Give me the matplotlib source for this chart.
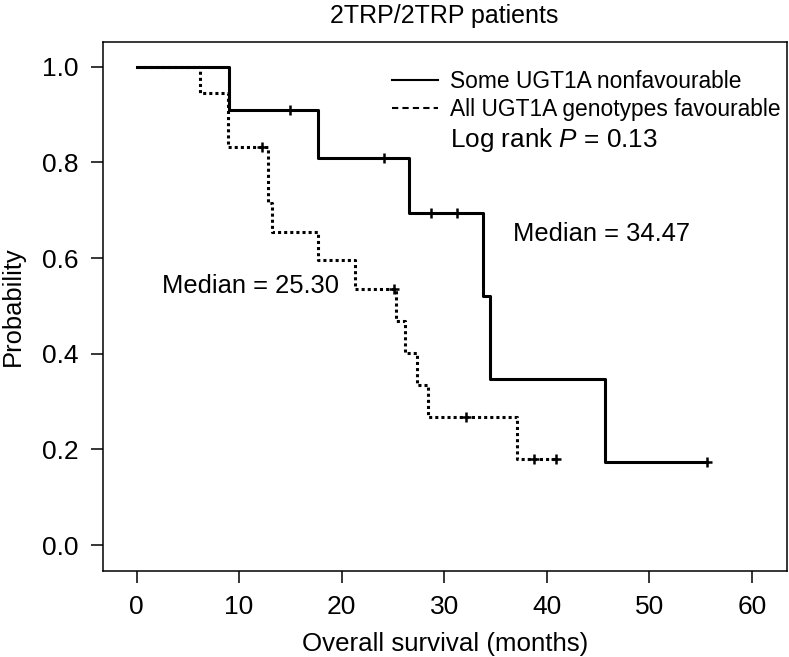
import matplotlib
matplotlib.use("Agg")
import matplotlib.pyplot as plt
from matplotlib.lines import Line2D

plt.rcParams['font.family'] = ['Liberation Sans', 'DejaVu Sans']
plt.rcParams['mathtext.fontset'] = 'custom'
plt.rcParams['mathtext.rm'] = 'Liberation Sans'
plt.rcParams['mathtext.it'] = 'Liberation Sans:italic'

# Kaplan-Meier steps
nonfav_time = [0, 9.0, 17.7, 26.6, 33.8, 34.5, 45.7, 55.6]
nonfav_surv = [1.0, 0.909, 0.808, 0.694, 0.520, 0.347, 0.173, 0.173]
nonfav_cens_time = [15.0, 24.1, 28.7, 31.2, 55.6]
nonfav_cens_surv = [0.909, 0.808, 0.694, 0.694, 0.173]

fav_time = [0, 6.2, 8.9, 12.8, 13.2, 17.7, 21.3, 25.3, 26.2, 27.3, 28.4, 37.1, 40.9]
fav_surv = [1.0, 0.944, 0.833, 0.714, 0.655, 0.595, 0.536, 0.469, 0.402, 0.335, 0.268, 0.179, 0.179]
fav_cens_time = [12.2, 25.1, 32.1, 38.8, 40.9]
fav_cens_surv = [0.833, 0.536, 0.268, 0.179, 0.179]

xticks = [0, 10, 20, 30, 40, 50, 60]
yticks = [0.0, 0.2, 0.4, 0.6, 0.8, 1.0]

fig = plt.figure(figsize=(7.89, 6.57), dpi=100)
ax = fig.add_axes([0.1302, 0.1309, 0.9971 - 0.1302, 0.9365 - 0.1309])

ax.step(nonfav_time, nonfav_surv, where='post', color='black', lw=2.2)
ax.plot(nonfav_cens_time, nonfav_cens_surv, ls='none', marker='+', ms=7, mew=1.8, color='black')

ax.step(fav_time, fav_surv, where='post', color='black', lw=2.2, ls=(0, (1, 1)))
ax.plot(fav_cens_time, fav_cens_surv, ls='none', marker='+', ms=7, mew=1.8, color='black')

ax.set_xlim(-3.3, 63.4)
ax.set_ylim(-0.054, 1.052)
ax.set_xticks(xticks)
ax.set_yticks(yticks)
ax.set_yticklabels([f"{v:.1f}" for v in yticks])
ax.tick_params(axis='both', direction='out', length=8.6, width=1.1, labelsize=19, pad=9)
for s in ax.spines.values():
    s.set_linewidth(1.1)

ax.set_xlabel('Overall survival (months)', fontsize=18.6, labelpad=9)
ax.set_ylabel('Probability', fontsize=18.4, va='center')
ax.yaxis.set_label_coords(-0.132, 0.5)

fig.text(0.5627, 1 - 23 / 657, '2TRP/2TRP patients', fontsize=18, ha='center', va='baseline')

handles = [Line2D([], [], color='black', lw=1.5),
           Line2D([], [], color='black', lw=1.5, ls=(0, (3, 2)))]
ax.legend(handles, ['Some UGT1A nonfavourable', 'All UGT1A genotypes favourable'],
          loc='upper left', bbox_to_anchor=((392 - 102.7) / 684, 1 - (70 - 41.7) / 529.3),
          frameon=False, fontsize=16.4, handlelength=2.0, handletextpad=0.55,
          borderpad=0, borderaxespad=0, labelspacing=0.2)

ax.text(30.6, 0.833, 'Log rank $\\it{P}$ = 0.13', fontsize=18.8, va='baseline')
ax.text(36.7, 0.635, 'Median = 34.47', fontsize=18.4, va='baseline')
ax.text(2.5, 0.527, 'Median = 25.30', fontsize=18.4, va='baseline')

fig.savefig('out.png', dpi=100)
